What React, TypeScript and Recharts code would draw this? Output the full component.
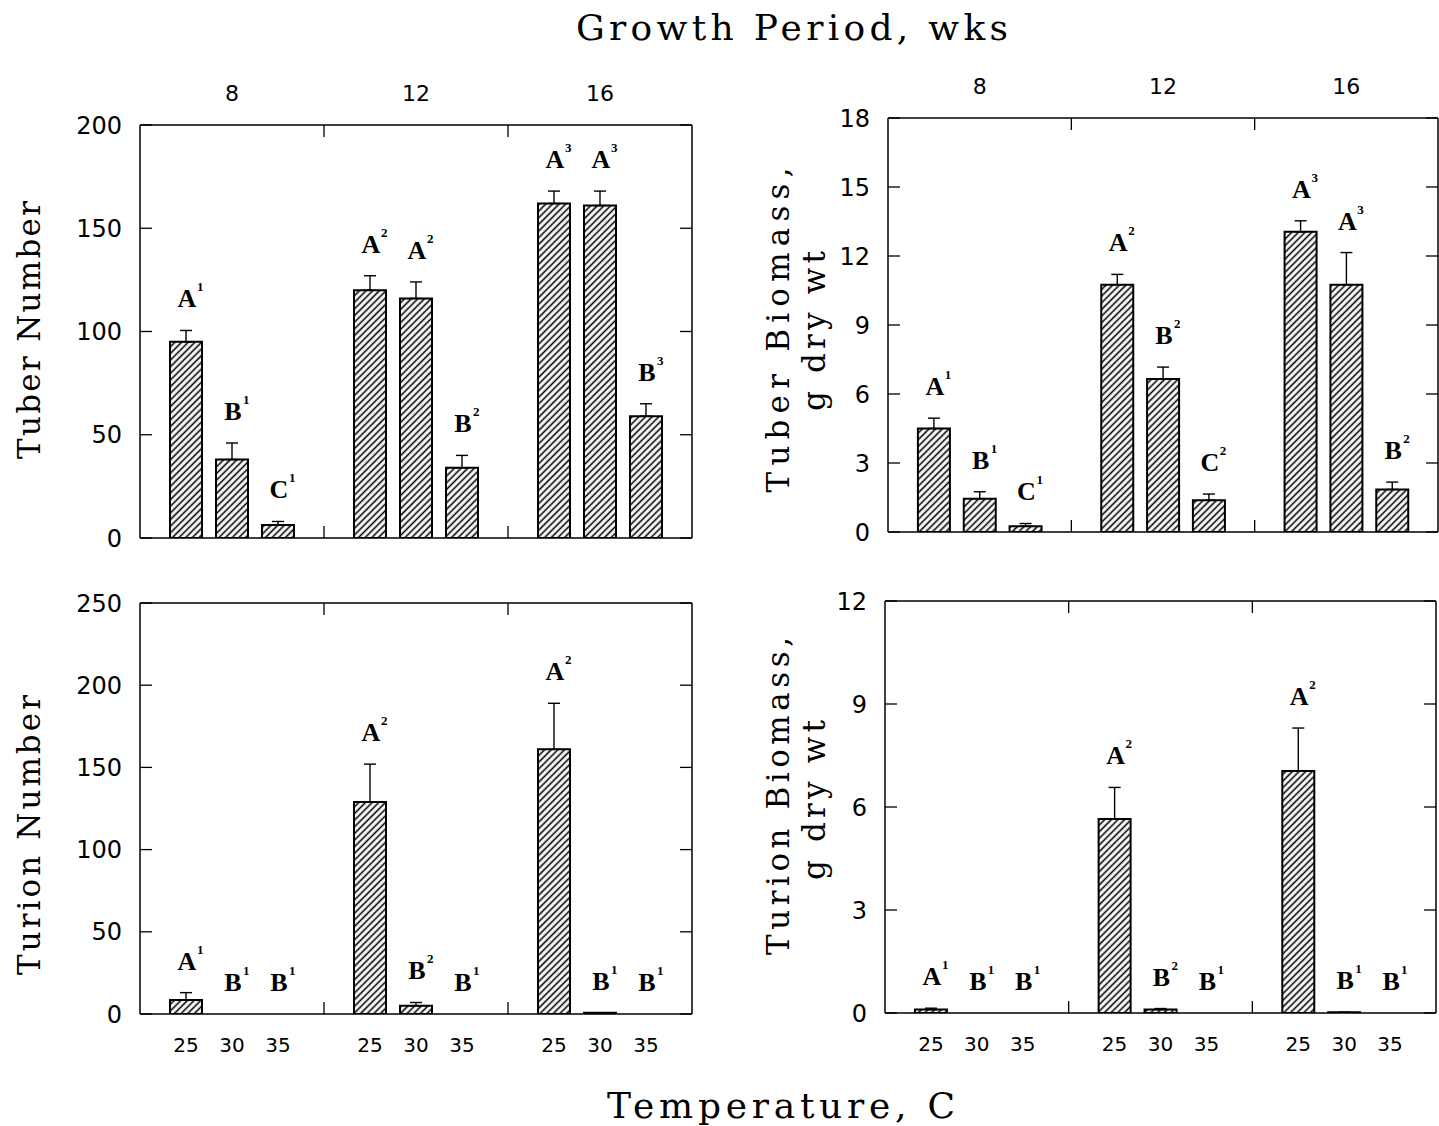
import React from 'react'
import { ComposedChart, Bar, ErrorBar, Line, XAxis, YAxis } from 'recharts'

// 11 category slots: three temperatures per growth period, with an empty slot between groups
const SLOTS = ['8-25', '8-30', '8-35', 'gap1', '12-25', '12-30', '12-35', 'gap2', '16-25', '16-30', '16-35']
const TEMPS = ['25', '30', '35', '', '25', '30', '35', '', '25', '30', '35']
const WEEKS = ['', '8', '', '', '', '12', '', '', '', '16', '']

const tuberNumber = [95, 38, 6.3, null, 120, 116, 34, null, 162, 161, 59]
const tuberNumberErr = [5.5, 8, 1.7, null, 7, 8, 6, null, 6, 7, 6]
const tuberNumberLetter = ['A', 'B', 'C', null, 'A', 'A', 'B', null, 'A', 'A', 'B']
const tuberNumberSup = ['1', '1', '1', null, '2', '2', '2', null, '3', '3', '3']

const tuberBiomass = [4.5, 1.45, 0.25, null, 10.75, 6.65, 1.38, null, 13.05, 10.75, 1.85]
const tuberBiomassErr = [0.45, 0.3, 0.12, null, 0.45, 0.52, 0.27, null, 0.48, 1.4, 0.32]
const tuberBiomassLetter = ['A', 'B', 'C', null, 'A', 'B', 'C', null, 'A', 'A', 'B']
const tuberBiomassSup = ['1', '1', '1', null, '2', '2', '2', null, '3', '3', '2']

const turionNumber = [8.5, 0, 0, null, 129, 5, 0, null, 161, 0.8, 0]
const turionNumberErr = [4.5, 0, 0, null, 23, 2, 0, null, 28, 0, 0]
const turionNumberLetter = ['A', 'B', 'B', null, 'A', 'B', 'B', null, 'A', 'B', 'B']
const turionNumberSup = ['1', '1', '1', null, '2', '2', '1', null, '2', '1', '1']

const turionBiomass = [0.1, 0, 0, null, 5.65, 0.1, 0, null, 7.05, 0.02, 0]
const turionBiomassErr = [0.04, 0, 0, null, 0.92, 0.03, 0, null, 1.25, 0, 0]
const turionBiomassLetter = ['A', 'B', 'B', null, 'A', 'B', 'B', null, 'A', 'B', 'B']
const turionBiomassSup = ['1', '1', '1', null, '2', '2', '1', null, '2', '1', '1']

const TICKS_TUBER_NUM = [0, 50, 100, 150, 200]
const TICKS_TUBER_BIO = [0, 3, 6, 9, 12, 15, 18]
const TICKS_TURION_NUM = [0, 50, 100, 150, 200, 250]
const TICKS_TURION_BIO = [0, 3, 6, 9, 12]

interface Row {
  slot: string
  v: number
  e: [number, number]
  top: number | null
  letter: string | null
  sup: string | null
}

function buildRows(
  vals: (number | null)[],
  errs: (number | null)[],
  letters: (string | null)[],
  sups: (string | null)[]
): Row[] {
  return SLOTS.map((slot, i) => {
    const v = vals[i]
    const e = errs[i] ?? 0
    return {
      slot,
      v: v ?? 0,
      e: [0, e],
      top: v == null ? null : v + e,
      letter: letters[i],
      sup: sups[i],
    }
  })
}

const INK = '#000'
const TICK_FONT = 'DejaVu Sans, sans-serif'
const LETTER_FONT = 'Liberation Serif, serif'
const TITLE_FONT = 'DejaVu Serif, serif'
const Y_AXIS_W = 70
const TOP_AXIS_H = 60
const BOTTOM_AXIS_H = 50
const RIGHT_AXIS_W = 4

function LeftTick(props: any) {
  const { x, y, payload } = props
  return (
    <g>
      <line x1={x} x2={x + 12} y1={y} y2={y} stroke={INK} strokeWidth={1.3} />
      <text x={x - 18} y={y} dy="0.36em" textAnchor="end" fontFamily={TICK_FONT} fontSize={24} fill={INK}>
        {payload.value}
      </text>
    </g>
  )
}

function RightTick(props: any) {
  const { x, y } = props
  return <line x1={x} x2={x - 12} y1={y} y2={y} stroke={INK} strokeWidth={1.3} />
}

function makeTopTick(showWeeks: boolean) {
  return function TopTick(props: any) {
    const { x, y, index } = props
    const isGap = TEMPS[index] === ''
    return (
      <g>
        {isGap && <line x1={x} x2={x} y1={y} y2={y + 12} stroke={INK} strokeWidth={1.3} />}
        {showWeeks && WEEKS[index] && (
          <text x={x} y={y - 24} textAnchor="middle" fontFamily={TICK_FONT} fontSize={22} fill={INK}>
            {WEEKS[index]}
          </text>
        )}
      </g>
    )
  }
}

function makeBottomTick(showTemps: boolean) {
  return function BottomTick(props: any) {
    const { x, y, index } = props
    const isGap = TEMPS[index] === ''
    return (
      <g>
        {isGap && <line x1={x} x2={x} y1={y} y2={y - 12} stroke={INK} strokeWidth={1.3} />}
        {showTemps && !isGap && (
          <text x={x} y={y + 38} textAnchor="middle" fontFamily={TICK_FONT} fontSize={20} fill={INK}>
            {TEMPS[index]}
          </text>
        )}
      </g>
    )
  }
}

// significance letter with superscript, placed above the error bar top
function renderMark(props: any) {
  const { cx, cy, payload, index } = props
  if (!payload || !payload.letter || cy == null || Number.isNaN(cy)) return <g key={`m-${index}`} />
  const by = cy - 23
  return (
    <g key={`m-${index}`}>
      <text x={cx + 1} y={by} textAnchor="middle" fontFamily={LETTER_FONT} fontWeight="bold" fontSize={26} fill={INK}>
        {payload.letter}
      </text>
      <text x={cx + 11} y={by - 16} fontFamily={LETTER_FONT} fontWeight="bold" fontSize={13} fill={INK}>
        {payload.sup}
      </text>
    </g>
  )
}

interface PanelProps {
  id: string
  left: number
  top: number
  plotW: number
  plotH: number
  rows: Row[]
  ticks: number[]
  showWeeks: boolean
  showTemps: boolean
}

function Panel({ id, left, top, plotW, plotH, rows, ticks, showWeeks, showTemps }: PanelProps) {
  const max = ticks[ticks.length - 1]
  const pad = plotW / 24
  const axisLine = { stroke: INK, strokeWidth: 1.5 }
  return (
    <div style={{ position: 'absolute', left: left - Y_AXIS_W, top: top - TOP_AXIS_H }}>
      <ComposedChart
        width={plotW + Y_AXIS_W + RIGHT_AXIS_W}
        height={plotH + TOP_AXIS_H + BOTTOM_AXIS_H}
        data={rows}
        margin={{ top: 0, right: 0, bottom: 0, left: 0 }}
      >
        <defs>
          <pattern
            id={`hatch-${id}`}
            patternUnits="userSpaceOnUse"
            width={4.7}
            height={4.7}
            patternTransform="rotate(45)"
          >
            <rect width={4.7} height={4.7} fill="#fff" />
            <line x1={2.35} y1={0} x2={2.35} y2={4.7} stroke={INK} strokeWidth={1.6} />
          </pattern>
        </defs>
        <XAxis
          dataKey="slot"
          type="category"
          padding={{ left: pad, right: pad }}
          height={BOTTOM_AXIS_H}
          axisLine={axisLine}
          tickLine={false}
          tickSize={0}
          tickMargin={0}
          interval={0}
          tick={makeBottomTick(showTemps)}
        />
        <XAxis
          xAxisId="top"
          orientation="top"
          dataKey="slot"
          type="category"
          padding={{ left: pad, right: pad }}
          height={TOP_AXIS_H}
          axisLine={axisLine}
          tickLine={false}
          tickSize={0}
          tickMargin={0}
          interval={0}
          tick={makeTopTick(showWeeks)}
        />
        <YAxis
          domain={[0, max]}
          ticks={ticks}
          width={Y_AXIS_W}
          axisLine={axisLine}
          tickLine={false}
          tickSize={0}
          tickMargin={0}
          allowDataOverflow
          tick={<LeftTick />}
        />
        <YAxis
          yAxisId="r"
          orientation="right"
          domain={[0, max]}
          ticks={ticks}
          width={RIGHT_AXIS_W}
          axisLine={axisLine}
          tickLine={false}
          tickSize={0}
          tickMargin={0}
          allowDataOverflow
          tick={<RightTick />}
        />
        <Bar
          dataKey="v"
          barSize={32}
          fill={`url(#hatch-${id})`}
          stroke={INK}
          strokeWidth={2}
          isAnimationActive={false}
        >
          <ErrorBar dataKey="e" direction="y" width={6} stroke={INK} strokeWidth={1.4} />
        </Bar>
        <Line
          xAxisId="top"
          yAxisId="r"
          dataKey="top"
          stroke="none"
          dot={renderMark}
          activeDot={false}
          legendType="none"
          isAnimationActive={false}
        />
      </ComposedChart>
    </div>
  )
}

function Titles() {
  const common = { fontFamily: TITLE_FONT, fill: INK, lengthAdjust: 'spacing' as const }
  return (
    <svg
      width={1439}
      height={1126}
      style={{ position: 'absolute', left: 0, top: 0, pointerEvents: 'none' }}
    >
      <text x={576} y={40} fontSize={36} textLength={432} {...common}>
        Growth Period, wks
      </text>
      <text x={607} y={1118} fontSize={36} textLength={348} {...common}>
        Temperature, C
      </text>
      <text transform="translate(40,330) rotate(-90)" textAnchor="middle" fontSize={31} textLength={258} {...common}>
        Tuber Number
      </text>
      <text transform="translate(40,835) rotate(-90)" textAnchor="middle" fontSize={31} textLength={280} {...common}>
        Turion Number
      </text>
      <text transform="translate(789,330) rotate(-90)" textAnchor="middle" fontSize={31} textLength={325} {...common}>
        Tuber Biomass,
      </text>
      <text transform="translate(825,331) rotate(-90)" textAnchor="middle" fontSize={31} textLength={160} {...common}>
        g dry wt
      </text>
      <text transform="translate(789,796) rotate(-90)" textAnchor="middle" fontSize={31} textLength={318} {...common}>
        Turion Biomass,
      </text>
      <text transform="translate(825,800) rotate(-90)" textAnchor="middle" fontSize={31} textLength={160} {...common}>
        g dry wt
      </text>
    </svg>
  )
}

export default function App() {
  const tl = buildRows(tuberNumber, tuberNumberErr, tuberNumberLetter, tuberNumberSup)
  const tr = buildRows(tuberBiomass, tuberBiomassErr, tuberBiomassLetter, tuberBiomassSup)
  const bl = buildRows(turionNumber, turionNumberErr, turionNumberLetter, turionNumberSup)
  const br = buildRows(turionBiomass, turionBiomassErr, turionBiomassLetter, turionBiomassSup)

  return (
    <div
      style={{
        position: 'absolute',
        left: 0,
        top: 0,
        width: 1439,
        height: 1126,
        overflow: 'hidden',
        background: '#fff',
      }}
    >
      <Panel id="tl" left={140} top={125} plotW={552} plotH={413} rows={tl} ticks={TICKS_TUBER_NUM} showWeeks showTemps={false} />
      <Panel id="tr" left={888} top={118} plotW={550} plotH={414} rows={tr} ticks={TICKS_TUBER_BIO} showWeeks showTemps={false} />
      <Panel id="bl" left={140} top={603} plotW={552} plotH={411} rows={bl} ticks={TICKS_TURION_NUM} showWeeks={false} showTemps />
      <Panel id="br" left={885} top={601} plotW={551} plotH={412} rows={br} ticks={TICKS_TURION_BIO} showWeeks={false} showTemps />
      <Titles />
    </div>
  )
}
